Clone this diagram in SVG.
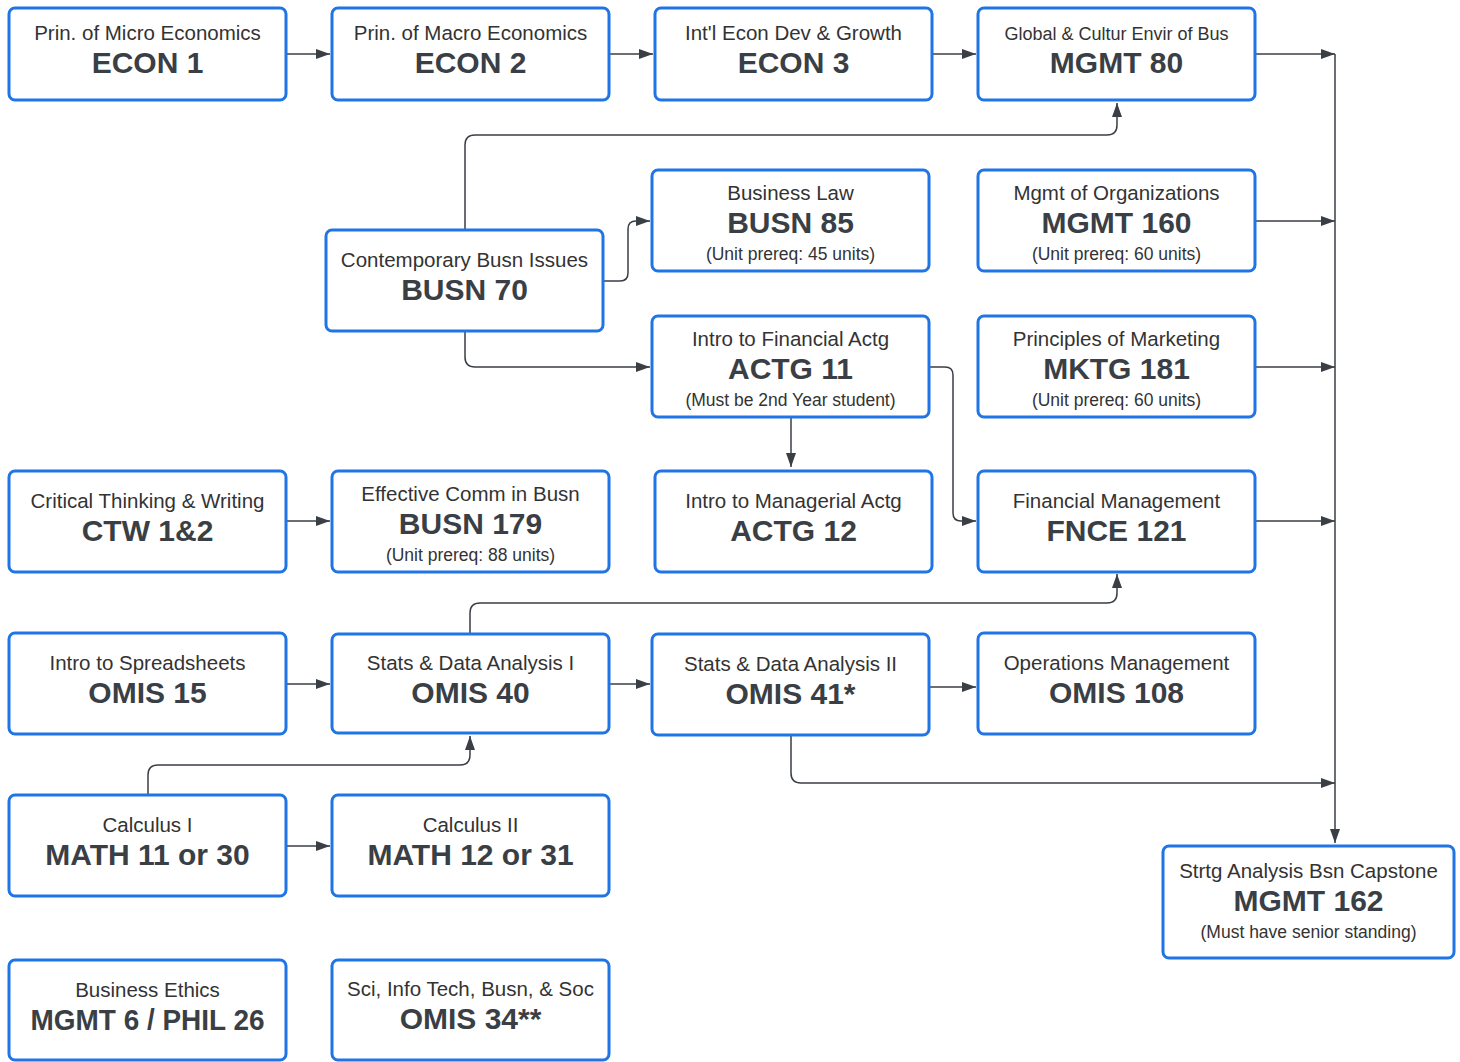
<svg xmlns="http://www.w3.org/2000/svg" width="1460" height="1062" viewBox="0 0 1460 1062">
<style>
.box{fill:#fff;stroke:#1f74e6;stroke-width:3;}
.t{font-family:"Liberation Sans",Arial,sans-serif;font-size:20.5px;fill:#333;text-anchor:middle;}
.ts{font-family:"Liberation Sans",Arial,sans-serif;font-size:18px;fill:#333;text-anchor:middle;}
.c{font-family:"Liberation Sans",Arial,sans-serif;font-size:30px;font-weight:bold;fill:#3a3f46;text-anchor:middle;}
.s{font-family:"Liberation Sans",Arial,sans-serif;font-size:17.5px;fill:#333;text-anchor:middle;}
.ln{fill:none;stroke:#3a3f46;stroke-width:1.5;marker-end:url(#ah);}
</style>
<defs>
<marker id="ah" viewBox="0 0 14 10" refX="14" refY="5" markerWidth="14" markerHeight="10" markerUnits="userSpaceOnUse" orient="auto">
<path d="M0,0 L14,5 L0,10 z" fill="#3a3f46"/>
</marker>
</defs>
<rect width="1460" height="1062" fill="#fff"/>
<g id="connectors">
<path class="ln" d="M286,54 H330"/>
<path class="ln" d="M609,54 H653"/>
<path class="ln" d="M932,54 H976"/>
<path class="ln" d="M1255,54 H1335"/>
<path class="ln" d="M1255,221 H1335"/>
<path class="ln" d="M1255,367 H1335"/>
<path class="ln" d="M1255,521 H1335"/>
<path class="ln" d="M1335,54 V843"/>
<path class="ln" d="M465,230 V145 Q465,135 475,135 H1107 Q1117,135 1117,125 V103"/>
<path class="ln" d="M603,281 H620 Q628,281 628,273 V229 Q628,221 636,221 H650"/>
<path class="ln" d="M465,331 V357 Q465,367 475,367 H650"/>
<path class="ln" d="M791,417 V467"/>
<path class="ln" d="M929,367 H945 Q953,367 953,375 V513 Q953,521 961,521 H976"/>
<path class="ln" d="M286,521 H330"/>
<path class="ln" d="M286,684 H330"/>
<path class="ln" d="M609,684 H650"/>
<path class="ln" d="M929,687 H976"/>
<path class="ln" d="M470,634 V613 Q470,603 480,603 H1107 Q1117,603 1117,593 V574"/>
<path class="ln" d="M791,735 V773 Q791,783 801,783 H1335"/>
<path class="ln" d="M148,795 V775 Q148,765 158,765 H460 Q470,765 470,755 V736"/>
<path class="ln" d="M286,846 H330"/>
</g>
<g id="econ1"><rect class="box" x="9" y="8" width="277" height="92" rx="6"/><text class="t" x="147.5" y="40">Prin. of Micro Economics</text><text class="c" x="147.5" y="73">ECON 1</text></g>
<g id="econ2"><rect class="box" x="332" y="8" width="277" height="92" rx="6"/><text class="t" x="470.5" y="40">Prin. of Macro Economics</text><text class="c" x="470.5" y="73">ECON 2</text></g>
<g id="econ3"><rect class="box" x="655" y="8" width="277" height="92" rx="6"/><text class="t" x="793.5" y="40">Int'l Econ Dev &amp; Growth</text><text class="c" x="793.5" y="73">ECON 3</text></g>
<g id="mgmt80"><rect class="box" x="978" y="8" width="277" height="92" rx="6"/><text class="ts" x="1116.5" y="40">Global &amp; Cultur Envir of Bus</text><text class="c" x="1116.5" y="73">MGMT 80</text></g>
<g id="busn85"><rect class="box" x="652" y="170" width="277" height="101" rx="6"/><text class="t" x="790.5" y="200">Business Law</text><text class="c" x="790.5" y="233">BUSN 85</text><text class="s" x="790.5" y="260">(Unit prereq: 45 units)</text></g>
<g id="mgmt160"><rect class="box" x="978" y="170" width="277" height="101" rx="6"/><text class="t" x="1116.5" y="200">Mgmt of Organizations</text><text class="c" x="1116.5" y="233">MGMT 160</text><text class="s" x="1116.5" y="260">(Unit prereq: 60 units)</text></g>
<g id="busn70"><rect class="box" x="326" y="230" width="277" height="101" rx="6"/><text class="t" x="464.5" y="267">Contemporary Busn Issues</text><text class="c" x="464.5" y="300">BUSN 70</text></g>
<g id="actg11"><rect class="box" x="652" y="316" width="277" height="101" rx="6"/><text class="t" x="790.5" y="346">Intro to Financial Actg</text><text class="c" x="790.5" y="379">ACTG 11</text><text class="s" x="790.5" y="406">(Must be 2nd Year student)</text></g>
<g id="mktg181"><rect class="box" x="978" y="316" width="277" height="101" rx="6"/><text class="t" x="1116.5" y="346">Principles of Marketing</text><text class="c" x="1116.5" y="379">MKTG 181</text><text class="s" x="1116.5" y="406">(Unit prereq: 60 units)</text></g>
<g id="ctw"><rect class="box" x="9" y="471" width="277" height="101" rx="6"/><text class="t" x="147.5" y="508">Critical Thinking &amp; Writing</text><text class="c" x="147.5" y="541">CTW 1&amp;2</text></g>
<g id="busn179"><rect class="box" x="332" y="471" width="277" height="101" rx="6"/><text class="t" x="470.5" y="501">Effective Comm in Busn</text><text class="c" x="470.5" y="534">BUSN 179</text><text class="s" x="470.5" y="561">(Unit prereq: 88 units)</text></g>
<g id="actg12"><rect class="box" x="655" y="471" width="277" height="101" rx="6"/><text class="t" x="793.5" y="508">Intro to Managerial Actg</text><text class="c" x="793.5" y="541">ACTG 12</text></g>
<g id="fnce121"><rect class="box" x="978" y="471" width="277" height="101" rx="6"/><text class="t" x="1116.5" y="508">Financial Management</text><text class="c" x="1116.5" y="541">FNCE 121</text></g>
<g id="omis15"><rect class="box" x="9" y="633" width="277" height="101" rx="6"/><text class="t" x="147.5" y="670">Intro to Spreadsheets</text><text class="c" x="147.5" y="703">OMIS 15</text></g>
<g id="omis40"><rect class="box" x="332" y="634" width="277" height="99" rx="6"/><text class="t" x="470.5" y="670">Stats &amp; Data Analysis I</text><text class="c" x="470.5" y="703">OMIS 40</text></g>
<g id="omis41"><rect class="box" x="652" y="634" width="277" height="101" rx="6"/><text class="t" x="790.5" y="671">Stats &amp; Data Analysis II</text><text class="c" x="790.5" y="704">OMIS 41*</text></g>
<g id="omis108"><rect class="box" x="978" y="633" width="277" height="101" rx="6"/><text class="t" x="1116.5" y="670">Operations Management</text><text class="c" x="1116.5" y="703">OMIS 108</text></g>
<g id="math11"><rect class="box" x="9" y="795" width="277" height="101" rx="6"/><text class="t" x="147.5" y="832">Calculus I</text><text class="c" x="147.5" y="865">MATH 11 or 30</text></g>
<g id="math12"><rect class="box" x="332" y="795" width="277" height="101" rx="6"/><text class="t" x="470.5" y="832">Calculus II</text><text class="c" x="470.5" y="865">MATH 12 or 31</text></g>
<g id="mgmt162"><rect class="box" x="1163" y="846" width="291" height="112" rx="6"/><text class="t" x="1308.5" y="878">Strtg Analysis Bsn Capstone</text><text class="c" x="1308.5" y="911">MGMT 162</text><text class="s" x="1308.5" y="938">(Must have senior standing)</text></g>
<g id="ethics"><rect class="box" x="9" y="960" width="277" height="100" rx="6"/><text class="t" x="147.5" y="997">Business Ethics</text><text class="c" x="147.5" y="1030" textLength="234" lengthAdjust="spacingAndGlyphs">MGMT 6 / PHIL 26</text></g>
<g id="omis34"><rect class="box" x="332" y="960" width="277" height="100" rx="6"/><text class="t" x="470.5" y="996">Sci, Info Tech, Busn, &amp; Soc</text><text class="c" x="470.5" y="1029">OMIS 34**</text></g>
</svg>
